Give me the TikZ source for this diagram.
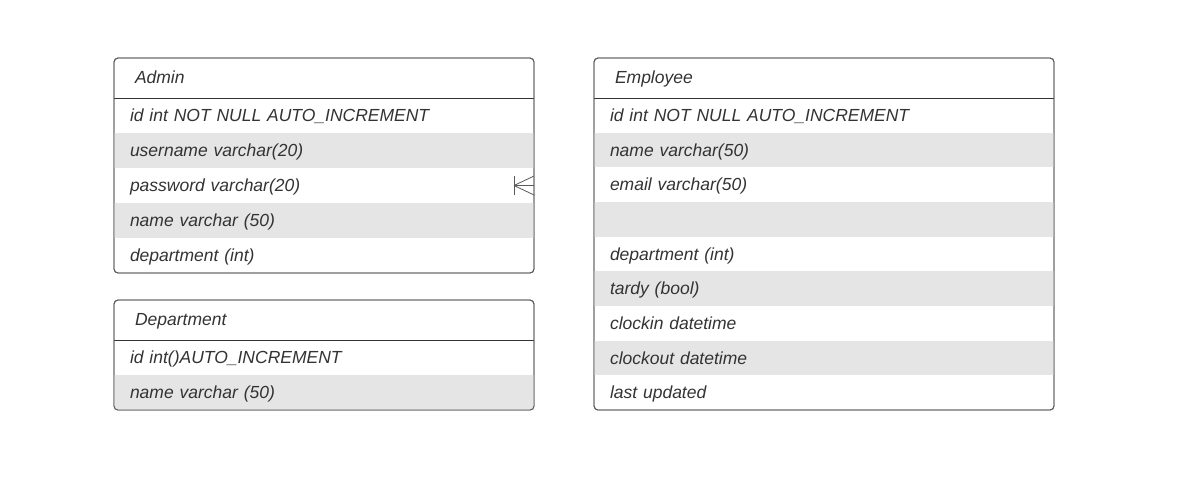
\documentclass[tikz,border=0pt]{standalone}
\usepackage{fontspec}
\setmainfont{Liberation Sans}
\usepackage{xcolor}
\usetikzlibrary{positioning}

\definecolor{framegray}{HTML}{5A5A5A}
\definecolor{rowgray}{HTML}{E5E5E5}
\definecolor{textgray}{HTML}{333333}

\begin{document}
\begin{tikzpicture}[x=1pt, y=-1pt,
    every node/.style = {font=\fontsize{17.5}{20}\selectfont\itshape, text=textgray,
      outer sep=0pt},
    frame/.style = {draw=framegray, line width=0.9pt, rounded corners=4pt,
      anchor=north west, inner sep=0pt, minimum width=420pt},
    head/.style = {anchor=north west, inner ysep=0pt, inner xsep=21pt,
      minimum height=40pt, text width=378pt, align=left,
      text height=14.6pt, text depth=4pt},
    row/.style = {inner ysep=0pt, inner xsep=16pt, minimum height=35pt,
      text width=388pt, align=left, text height=16pt, text depth=4pt},
    alt/.style = {fill=rowgray},
    sep/.style = {draw=textgray, line width=0.9pt},
    crow/.style = {draw=framegray, line width=0.8pt}]
  \useasboundingbox (0,0) rectangle (1178,496);

  % Admin
  \node[frame, minimum height=215pt] (admin) at (114,58) {};
  \node[head] (adminhead) at (admin.north west) {Admin};
  \begin{scope}
    \clip[rounded corners=4pt] (admin.north west) rectangle (admin.south east);
    \node[row, below=0pt of adminhead] (admin1) {id int NOT NULL AUTO\_INCREMENT};
    \node[row, alt, below=0pt of admin1] (admin2) {username varchar(20)};
    \node[row, below=0pt of admin2] (admin3) {password varchar(20)};
    \node[row, alt, below=0pt of admin3] (admin4) {name varchar (50)};
    \node[row, below=0pt of admin4] (admin5) {department (int)};
  \end{scope}
  \draw[sep] (adminhead.south west) -- (adminhead.south east);
  \node[frame, minimum height=215pt] at (admin.north west) {};

  % Department
  \node[frame, minimum height=110pt] (dept) at (114,300) {};
  \node[head] (depthead) at (dept.north west) {Department};
  \begin{scope}
    \clip[rounded corners=4pt] (dept.north west) rectangle (dept.south east);
    \node[row, below=0pt of depthead] (dept1) {id int()AUTO\_INCREMENT};
    \node[row, alt, below=0pt of dept1] (dept2) {name varchar (50)};
  \end{scope}
  \draw[sep] (depthead.south west) -- (depthead.south east);
  \node[frame, minimum height=110pt] at (dept.north west) {};

  % Employee
  \node[frame, minimum width=460pt, minimum height=352pt] (emp) at (594,58) {};
  \node[head, text width=418pt] (emphead) at (emp.north west) {Employee};
  \begin{scope}[row/.append style={text width=428pt, minimum height=34.67pt}]
    \clip[rounded corners=4pt] (emp.north west) rectangle (emp.south east);
    \node[row, below=0pt of emphead] (emp1) {id int NOT NULL AUTO\_INCREMENT};
    \node[row, alt, below=0pt of emp1] (emp2) {name varchar(50)};
    \node[row, below=0pt of emp2] (emp3) {email varchar(50)};
    \node[row, alt, below=0pt of emp3] (emp4) {};
    \node[row, below=0pt of emp4] (emp5) {department (int)};
    \node[row, alt, below=0pt of emp5] (emp6) {tardy (bool)};
    \node[row, below=0pt of emp6] (emp7) {clockin datetime};
    \node[row, alt, below=0pt of emp7] (emp8) {clockout datetime};
    \node[row, below=0pt of emp8] (emp9) {last updated};
  \end{scope}
  \draw[sep] (emphead.south west) -- (emphead.south east);
  \node[frame, minimum width=460pt, minimum height=352pt] at (emp.north west) {};

  % crow's foot on Admin
  \coordinate (foot) at ([xshift=-20pt]admin3.east);
  \draw[crow] ([yshift=-9.5pt]foot) -- ([yshift=9.5pt]foot);
  \draw[crow] (foot) -- ([yshift=-9.5pt]admin3.east);
  \draw[crow] (foot) -- (admin3.east);
  \draw[crow] (foot) -- ([yshift=9.5pt]admin3.east);
\end{tikzpicture}
\end{document}
